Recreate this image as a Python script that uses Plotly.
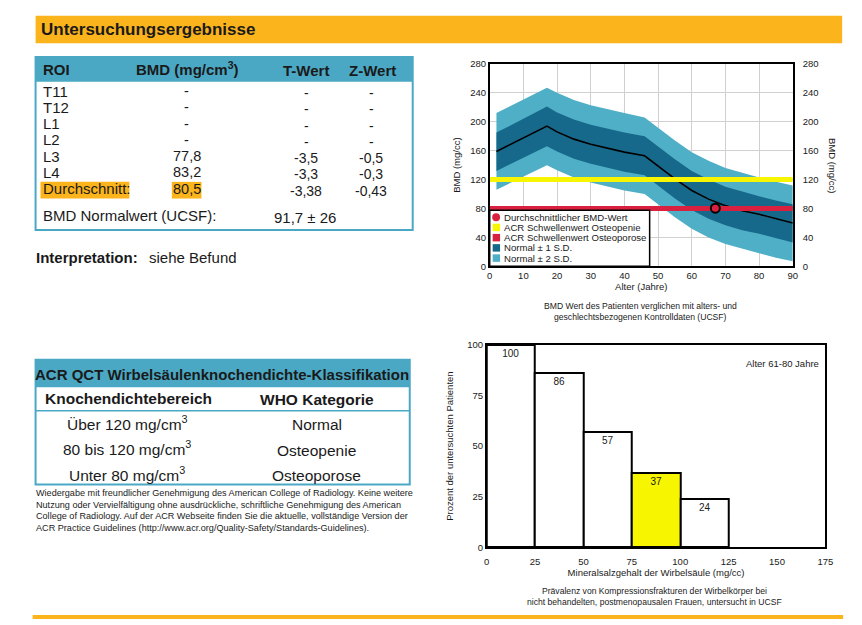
import plotly.graph_objects as go

W, H = 862, 625
FONT = "Liberation Sans, Arial, sans-serif"

# ---------------- data ----------------
roi_labels = ["T11", "T12", "L1", "L2", "L3", "L4", "Durchschnitt:"]
bmd_values = ["-", "-", "-", "-", "77,8", "83,2", "80,5"]
t_values = ["-", "-", "-", "-", "-3,5", "-3,3", "-3,38"]
z_values = ["-", "-", "-", "-", "-0,5", "-0,3", "-0,43"]
normal_label = "BMD Normalwert (UCSF):"
normal_value = "91,7 ± 26"

acr_ranges = ["Über 120 mg/cm<sup>3</sup>", "80 bis 120 mg/cm<sup>3</sup>", "Unter 80 mg/cm<sup>3</sup>"]
acr_categories = ["Normal", "Osteopenie", "Osteoporose"]

ages = [2, 17, 20, 25, 30, 35, 40, 46, 50, 55, 60, 65, 70, 75, 80, 85, 90]
bmd_mean = [159, 194, 186, 176, 169, 163, 158, 153, 139, 121, 105, 93, 84, 77, 72, 66, 60]
bmd_up1 = [185, 221, 213, 203, 196, 190, 185, 180, 166, 148, 132, 120, 110, 103, 97, 91, 86]
bmd_lo1 = [132, 166, 159, 149, 142, 136, 131, 126, 112, 94, 78, 66, 57, 50, 45, 39, 33]
bmd_up2 = [212, 247, 240, 230, 223, 217, 212, 206, 192, 174, 158, 146, 136, 129, 123, 117, 112]
bmd_lo2 = [106, 140, 133, 123, 116, 110, 105, 100, 86, 68, 52, 40, 31, 24, 18, 12, 7]
osteopenia_threshold = 120
osteoporosis_threshold = 80
patient_age = [67]
patient_bmd = [80.5]

bin_left = [0, 25, 50, 75, 100]
bin_width = 25
fracture_pct = [100, 86, 57, 37, 24]
patient_bin = 75

# ---------------- colors ----------------
TEAL_HDR = "#4AA8C4"
LIGHT = "#4FAFC6"
DARK = "#17698C"
RED = "#D9203F"
YEL = "#F7F500"
ORANGE = "#FBB41C"
TXT = "#1a1a1a"


def px(x):
    return x / W


def py(y):
    return 1 - y / H


fig = go.Figure()

# ---- top chart: bands ----
fig.add_trace(go.Scatter(x=ages, y=bmd_lo2, mode="lines", line=dict(width=0), xaxis="x", yaxis="y",
                         showlegend=False, hoverinfo="skip"))
fig.add_trace(go.Scatter(x=ages, y=bmd_up2, mode="lines", line=dict(width=0), fill="tonexty",
                         fillcolor=LIGHT, xaxis="x", yaxis="y", showlegend=False))
fig.add_trace(go.Scatter(x=ages, y=bmd_lo1, mode="lines", line=dict(width=0), xaxis="x", yaxis="y",
                         showlegend=False, hoverinfo="skip"))
fig.add_trace(go.Scatter(x=ages, y=bmd_up1, mode="lines", line=dict(width=0), fill="tonexty",
                         fillcolor=DARK, xaxis="x", yaxis="y", showlegend=False))
fig.add_trace(go.Scatter(x=ages, y=bmd_mean, mode="lines", line=dict(color="black", width=1.6),
                         xaxis="x", yaxis="y", showlegend=False))
fig.add_trace(go.Scatter(x=[0, 90], y=[osteopenia_threshold] * 2, mode="lines",
                         line=dict(color=YEL, width=5), xaxis="x", yaxis="y", showlegend=False))
fig.add_trace(go.Scatter(x=[0, 90], y=[osteoporosis_threshold] * 2, mode="lines",
                         line=dict(color=RED, width=5), xaxis="x", yaxis="y", showlegend=False))
fig.add_trace(go.Scatter(x=patient_age, y=patient_bmd, mode="markers",
                         marker=dict(color=RED, size=9, line=dict(color="black", width=2)),
                         xaxis="x", yaxis="y", showlegend=False))
# trace bound to the right axis (same scale)
fig.add_trace(go.Scatter(x=patient_age, y=patient_bmd, mode="markers", marker=dict(opacity=0),
                         xaxis="x", yaxis="y3", showlegend=False, hoverinfo="skip"))

# ---- bottom chart: histogram bars ----
bar_x = [b + bin_width / 2 for b in bin_left]
bar_colors = [YEL if b == patient_bin else "white" for b in bin_left]
fig.add_trace(go.Bar(x=bar_x, y=fracture_pct, width=bin_width, xaxis="x2", yaxis="y2",
                     marker=dict(color=bar_colors, line=dict(color="black", width=2)),
                     text=[str(v) for v in fracture_pct], textposition="inside",
                     insidetextanchor="end", textangle=0,
                     textfont=dict(family=FONT, size=10, color=TXT), showlegend=False))

# ---------------- layout ----------------
top_dom_x = [px(493), px(800)]
top_dom_y = [py(265), py(59)]
bot_dom_x = [px(490), px(833)]
bot_dom_y = [py(551), py(345)]

tickf = dict(family=FONT, size=9.5, color=TXT)

fig.update_layout(
    width=W, height=H, margin=dict(l=0, r=0, t=0, b=0),
    paper_bgcolor="white", plot_bgcolor="white",
    font=dict(family=FONT, color=TXT),
    showlegend=False,
    bargap=0,
    xaxis=dict(domain=top_dom_x, range=[0, 90], tickvals=list(range(0, 91, 10)),
               showgrid=True, gridcolor="#d0d0d0", gridwidth=1, zeroline=False,
               showline=True, linecolor="black", linewidth=1.5, mirror=True, ticks="",
               tickfont=tickf, anchor="y",
               title=dict(text="Alter (Jahre)", font=dict(family=FONT, size=9.5, color=TXT), standoff=2)),
    yaxis=dict(domain=top_dom_y, range=[0, 280], tickvals=list(range(0, 281, 40)),
               showgrid=True, gridcolor="#d0d0d0", gridwidth=1, zeroline=False,
               showline=True, linecolor="black", linewidth=1.5, mirror=True, ticks="",
               tickfont=tickf, anchor="x",
               title=dict(text="BMD (mg/cc)", font=dict(family=FONT, size=9.5, color=TXT), standoff=8)),
    yaxis3=dict(overlaying="y", side="right", range=[0, 280], tickvals=list(range(0, 281, 40)),
                showgrid=False, zeroline=False, ticks="", tickfont=tickf, anchor="x",
                showline=False, ticklabelstandoff=9),
    xaxis2=dict(domain=bot_dom_x, range=[0, 175], tickvals=list(range(0, 176, 25)),
                showgrid=False, zeroline=False, showline=True, linecolor="black", linewidth=1.5,
                mirror=True, ticks="", tickfont=tickf, anchor="y2", ticklabelstandoff=5,
                title=dict(text="Mineralsalzgehalt der Wirbelsäule (mg/cc)",
                           font=dict(family=FONT, size=9.5, color=TXT), standoff=3)),
    yaxis2=dict(domain=bot_dom_y, range=[0, 100], tickvals=[0, 25, 50, 75, 100],
                showgrid=False, zeroline=False, showline=True, linecolor="black", linewidth=1.5,
                mirror=True, ticks="", tickfont=tickf, anchor="x2",
                title=dict(text="Prozent der untersuchten Patienten",
                           font=dict(family=FONT, size=9.5, color=TXT), standoff=12)),
)

shapes = []
ann = []


def rect(x0, y0, x1, y1, fill=None, line=None, lw=1.5, layer="above"):
    shapes.append(dict(type="rect", xref="paper", yref="paper", x0=px(x0), x1=px(x1),
                       y0=py(y1), y1=py(y0), fillcolor=fill or "rgba(0,0,0,0)",
                       line=dict(color=line or "rgba(0,0,0,0)", width=lw if line else 0), layer=layer))


def text(x, y, s, size=14, bold=False, xanchor="left", color=TXT, angle=0):
    if bold:
        s = "<b>" + s + "</b>"
    if xanchor == "left":
        x -= 2
    elif xanchor == "right":
        x += 2
    ann.append(dict(x=px(x), y=py(y), xref="paper", yref="paper", text=s, showarrow=False,
                    xanchor=xanchor, yanchor="middle", textangle=angle,
                    font=dict(family=FONT, size=size, color=color)))


# banner
rect(33, 10, 850, 38, fill=ORANGE, layer="below")
text(38, 24, "Untersuchungsergebnisse", size=17, bold=True)

# table 1
rect(33, 52, 415, 77, fill=TEAL_HDR, layer="below")
rect(33, 52, 415, 228, line=TEAL_HDR, lw=2)
text(40, 65, "ROI", size=15, bold=True)
text(187, 64, "BMD (mg/cm<sup>3</sup>)", size=15, bold=True, xanchor="center")
text(307, 66, "T-Wert", size=15, bold=True, xanchor="center")
text(374, 66, "Z-Wert", size=15, bold=True, xanchor="center")
row_y = [87, 103, 120, 136, 153, 169, 186]
rect(38, 179, 128, 196, fill=ORANGE, layer="below")
rect(171, 179, 201, 196, fill=ORANGE, layer="below")
for i, yy in enumerate(row_y):
    text(40, yy, roi_labels[i], size=15)
    text(186, yy, bmd_values[i], size=14.5, xanchor="center")
    text(307, yy + 2, t_values[i], size=14, xanchor="center")
    text(373, yy + 2, z_values[i], size=14, xanchor="center")
text(40, 213, normal_label, size=15)
text(306, 215, normal_value, size=15, xanchor="center")

text(33, 256, "Interpretation:", size=15, bold=True)
text(148, 256, "siehe Befund", size=15)

# table 2
rect(33, 360, 412, 388, fill=TEAL_HDR, layer="below")
rect(33, 360, 412, 487, line=TEAL_HDR, lw=2)
shapes.append(dict(type="line", xref="paper", yref="paper", x0=px(33), x1=px(412), y0=py(412), y1=py(412),
                   line=dict(color=TEAL_HDR, width=1.5)))
text(222, 375, "ACR QCT Wirbelsäulenknochendichte-Klassifikation", size=15, bold=True, xanchor="center")
text(127, 400, "Knochendichtebereich", size=15.5, bold=True, xanchor="center")
text(318, 401, "WHO Kategorie", size=15.5, bold=True, xanchor="center")
for i, yy in enumerate([424, 450, 476]):
    text(126, yy, acr_ranges[i], size=15.5, xanchor="center")
    text(318, yy + 2, acr_categories[i], size=15.5, xanchor="center")
foot = ["Wiedergabe mit freundlicher Genehmigung des American College of Radiology. Keine weitere",
        "Nutzung oder Vervielfältigung ohne ausdrückliche, schriftliche Genehmigung des American",
        "College of Radiology. Auf der ACR Webseite finden Sie die aktuelle, vollständige Version der",
        "ACR Practice Guidelines (http://www.acr.org/Quality-Safety/Standards-Guidelines)."]
for i, s in enumerate(foot):
    text(33, 496 + i * 11.7, s, size=9.1)

# top chart legend
rect(493, 208, 655, 265, fill="white", line="black", lw=1.5)
leg_items = [("circle", RED, "Durchschnittlicher BMD-Wert"),
             ("sq", YEL, "ACR Schwellenwert Osteopenie"),
             ("sq", RED, "ACR Schwellenwert Osteoporose"),
             ("sq", DARK, "Normal ± 1 S.D."),
             ("sq", LIGHT, "Normal ± 2 S.D.")]
for i, (kind, col, lab) in enumerate(leg_items):
    yy = 215 + i * 10.4
    if kind == "circle":
        shapes.append(dict(type="circle", xref="paper", yref="paper", x0=px(495.5), x1=px(503.5),
                           y0=py(yy + 4), y1=py(yy - 4), fillcolor=col, line=dict(width=0)))
    else:
        rect(496, yy - 3.8, 503.5, yy + 3.8, fill=col)
    text(507, yy, lab, size=9.6)

# right axis title and captions
text(841, 162, "BMD (mg/cc)", size=9.5, xanchor="center", angle=90)
text(646, 305, "BMD Wert des Patienten verglichen mit alters- und", size=8.6, xanchor="center")
text(646, 317, "geschlechtsbezogenen Kontrolldaten (UCSF)", size=8.6, xanchor="center")
text(827, 364, "Alter 61-80 Jahre", size=9.5, xanchor="right")
text(660, 595, "Prävalenz von Kompressionsfrakturen der Wirbelkörper bei", size=8.6, xanchor="center")
text(660, 607, "nicht behandelten, postmenopausalen Frauen, untersucht in UCSF", size=8.6, xanchor="center")

# bottom orange rule
rect(30, 620, 851, 624, fill=ORANGE, layer="below")

fig.update_layout(shapes=shapes, annotations=ann)
fig.write_html("out.html")
